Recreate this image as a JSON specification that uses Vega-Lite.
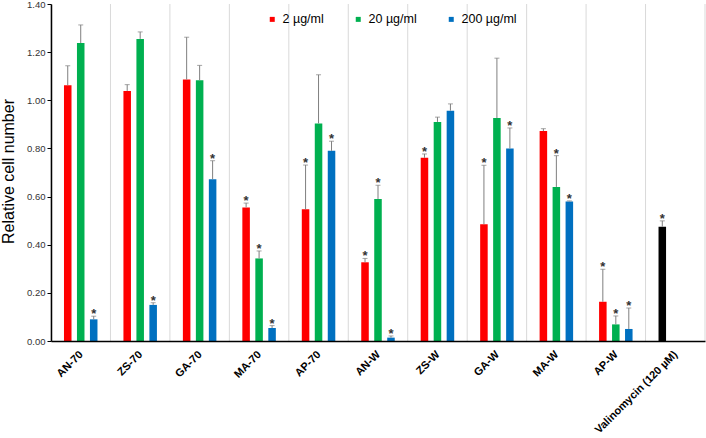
{
  "$schema": "https://vega.github.io/schema/vega-lite/v6.json",
  "width": 654,
  "height": 337,
  "autosize": {"type": "none"},
  "padding": {"left": 51, "top": 4, "right": 1, "bottom": 97},
  "config": {"view": {"stroke": null}, "font": "Liberation Sans"},
  "data": {
    "values": [
      {"sample": "AN-70", "slot": "a", "conc": "2 µg/ml", "value": 1.062, "err": 1.143, "sig": false},
      {"sample": "AN-70", "slot": "b", "conc": "20 µg/ml", "value": 1.238, "err": 1.313, "sig": false},
      {"sample": "AN-70", "slot": "c", "conc": "200 µg/ml", "value": 0.09, "err": 0.103, "sig": true},
      {"sample": "ZS-70", "slot": "a", "conc": "2 µg/ml", "value": 1.039, "err": 1.065, "sig": false},
      {"sample": "ZS-70", "slot": "b", "conc": "20 µg/ml", "value": 1.255, "err": 1.284, "sig": false},
      {"sample": "ZS-70", "slot": "c", "conc": "200 µg/ml", "value": 0.15, "err": 0.159, "sig": true},
      {"sample": "GA-70", "slot": "a", "conc": "2 µg/ml", "value": 1.086, "err": 1.262, "sig": false},
      {"sample": "GA-70", "slot": "b", "conc": "20 µg/ml", "value": 1.083, "err": 1.145, "sig": false},
      {"sample": "GA-70", "slot": "c", "conc": "200 µg/ml", "value": 0.672, "err": 0.749, "sig": true},
      {"sample": "MA-70", "slot": "a", "conc": "2 µg/ml", "value": 0.555, "err": 0.573, "sig": true},
      {"sample": "MA-70", "slot": "b", "conc": "20 µg/ml", "value": 0.343, "err": 0.374, "sig": true},
      {"sample": "MA-70", "slot": "c", "conc": "200 µg/ml", "value": 0.054, "err": 0.064, "sig": true},
      {"sample": "AP-70", "slot": "a", "conc": "2 µg/ml", "value": 0.547, "err": 0.731, "sig": true},
      {"sample": "AP-70", "slot": "b", "conc": "20 µg/ml", "value": 0.904, "err": 1.106, "sig": false},
      {"sample": "AP-70", "slot": "c", "conc": "200 µg/ml", "value": 0.79, "err": 0.83, "sig": true},
      {"sample": "AN-W", "slot": "a", "conc": "2 µg/ml", "value": 0.327, "err": 0.343, "sig": true},
      {"sample": "AN-W", "slot": "b", "conc": "20 µg/ml", "value": 0.59, "err": 0.647, "sig": true},
      {"sample": "AN-W", "slot": "c", "conc": "200 µg/ml", "value": 0.014, "err": 0.021, "sig": true},
      {"sample": "ZS-W", "slot": "a", "conc": "2 µg/ml", "value": 0.761, "err": 0.777, "sig": true},
      {"sample": "ZS-W", "slot": "b", "conc": "20 µg/ml", "value": 0.91, "err": 0.93, "sig": false},
      {"sample": "ZS-W", "slot": "c", "conc": "200 µg/ml", "value": 0.957, "err": 0.985, "sig": false},
      {"sample": "GA-W", "slot": "a", "conc": "2 µg/ml", "value": 0.485, "err": 0.73, "sig": true},
      {"sample": "GA-W", "slot": "b", "conc": "20 µg/ml", "value": 0.926, "err": 1.175, "sig": false},
      {"sample": "GA-W", "slot": "c", "conc": "200 µg/ml", "value": 0.8, "err": 0.885, "sig": true},
      {"sample": "MA-W", "slot": "a", "conc": "2 µg/ml", "value": 0.872, "err": 0.882, "sig": false},
      {"sample": "MA-W", "slot": "b", "conc": "20 µg/ml", "value": 0.64, "err": 0.77, "sig": true},
      {"sample": "MA-W", "slot": "c", "conc": "200 µg/ml", "value": 0.58, "err": 0.582, "sig": true},
      {"sample": "AP-W", "slot": "a", "conc": "2 µg/ml", "value": 0.163, "err": 0.298, "sig": true},
      {"sample": "AP-W", "slot": "b", "conc": "20 µg/ml", "value": 0.069, "err": 0.104, "sig": true},
      {"sample": "AP-W", "slot": "c", "conc": "200 µg/ml", "value": 0.05, "err": 0.137, "sig": true},
      {"sample": "Valinomycin (120 µM)", "slot": "a", "conc": "Valinomycin", "value": 0.475, "err": 0.499, "sig": true}
    ]
  },
  "encoding": {
    "x": {
      "field": "sample",
      "type": "nominal",
      "sort": null,
      "scale": {
        "domain": ["AN-70", "ZS-70", "GA-70", "MA-70", "AP-70", "AN-W", "ZS-W", "GA-W", "MA-W", "AP-W", "Valinomycin (120 µM)"],
        "paddingInner": 0,
        "paddingOuter": 0
      },
      "axis": {
        "title": null,
        "domainColor": "#000000",
        "domainWidth": 1.5,
        "ticks": false,
        "grid": false,
        "labels": false,
        "zindex": 1
      }
    }
  },
  "layer": [
    {
      "transform": [{"filter": "datum.slot === 'a'"}],
      "mark": {"type": "rule", "color": "#D9D9D9", "strokeWidth": 1},
      "encoding": {
        "x": {"field": "sample", "type": "nominal", "bandPosition": 0}
      }
    },
    {
      "transform": [{"filter": "datum.sample === 'Valinomycin (120 µM)'"}],
      "mark": {"type": "rule", "color": "#D9D9D9", "strokeWidth": 1},
      "encoding": {
        "x": {"field": "sample", "type": "nominal", "bandPosition": 1}
      }
    },
    {
      "mark": {"type": "bar"},
      "encoding": {
        "xOffset": {"field": "slot", "type": "nominal", "scale": {"paddingInner": 0.42, "paddingOuter": 1.19}},
        "y": {
          "field": "value",
          "type": "quantitative",
          "scale": {"domain": [0, 1.4], "nice": false},
          "axis": {
            "title": "Relative cell number",
            "titleFontSize": 16,
            "titleFontWeight": "normal",
            "titleColor": "#000000",
            "titleX": -38,
            "titleY": 167,
            "titleBaseline": "alphabetic",
            "titleAngle": -90,
            "values": [0, 0.2, 0.4, 0.6, 0.8, 1.0, 1.2, 1.4],
            "format": ".2f",
            "grid": false,
            "domainColor": "#000000",
            "domainWidth": 1.5,
            "tickColor": "#000000",
            "tickSize": 4,
            "labelFontSize": 9.5,
            "labelColor": "#333333",
            "labelPadding": 2,
            "zindex": 1
          }
        },
        "color": {
          "field": "conc",
          "type": "nominal",
          "scale": {
            "domain": ["2 µg/ml", "20 µg/ml", "200 µg/ml", "Valinomycin"],
            "range": ["#FF0000", "#00B050", "#0070C0", "#000000"]
          },
          "legend": {
            "values": ["2 µg/ml", "20 µg/ml", "200 µg/ml"],
            "title": null,
            "orient": "none",
            "legendX": 215,
            "legendY": 9,
            "direction": "horizontal",
            "symbolType": "square",
            "symbolSize": 25,
            "symbolStrokeWidth": 0,
            "labelFontSize": 12.5,
            "labelColor": "#000000",
            "labelOffset": 4,
            "columnPadding": 28,
            "padding": 0
          }
        }
      }
    },
    {
      "mark": {"type": "rule", "color": "#7F7F7F", "strokeWidth": 1},
      "encoding": {
        "xOffset": {"field": "slot", "type": "nominal", "scale": {"paddingInner": 0.42, "paddingOuter": 1.19}},
        "y": {"field": "value", "type": "quantitative"},
        "y2": {"field": "err"}
      }
    },
    {
      "mark": {"type": "tick", "color": "#7F7F7F", "orient": "horizontal", "size": 5, "thickness": 1},
      "encoding": {
        "xOffset": {"field": "slot", "type": "nominal", "scale": {"paddingInner": 0.42, "paddingOuter": 1.19}},
        "y": {"field": "err", "type": "quantitative"}
      }
    },
    {
      "transform": [{"filter": "datum.sig"}],
      "mark": {"type": "text", "text": "*", "fontSize": 13, "fontWeight": "bold", "color": "#333333", "baseline": "alphabetic", "dy": 2},
      "encoding": {
        "xOffset": {"field": "slot", "type": "nominal", "scale": {"paddingInner": 0.42, "paddingOuter": 1.19}},
        "y": {"field": "err", "type": "quantitative"}
      }
    },
    {
      "transform": [{"filter": "datum.slot === 'a'"}],
      "mark": {"type": "text", "angle": 315, "align": "right", "baseline": "middle", "fontSize": 11, "fontWeight": "bold", "color": "#000000", "dx": -8, "dy": 9},
      "encoding": {
        "y": {"datum": 0, "type": "quantitative"},
        "text": {"field": "sample", "type": "nominal"}
      }
    }
  ]
}
